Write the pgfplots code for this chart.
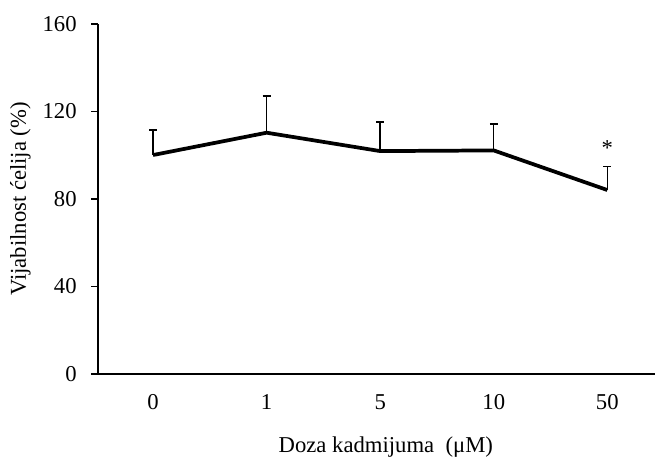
\documentclass[border=0pt]{standalone}
\usepackage{fontspec}
\setmainfont{Liberation Serif}
\usepackage{pgfplots}
\pgfplotsset{compat=1.18}
\begin{document}
\begin{tikzpicture}[x=1pt,y=1pt]
\useasboundingbox (-73.5,-63.75) rectangle (417.75,280.5);
\begin{axis}[
  at={(0,0)}, anchor=south west,
  scale only axis, width=417.75pt, height=262.5pt,
  axis lines=left, axis line style={-, line width=1.1pt},
  xmin=-0.485, xmax=4.42, ymin=0, ymax=160,
  xtick={0,1,2,3,4}, xticklabels={0,1,5,10,50},
  ytick={0,40,80,120,160},
  x tick style={draw=none},
  y tick style={line width=1.1pt, black},
  tick align=outside, major tick length=5pt,
  /pgf/number format/assume math mode=true,
  tick label style={font=\fontsize{17}{20}\selectfont},
  label style={font=\fontsize{17}{20}\selectfont},
  xticklabel style={yshift=-7pt},
  yticklabel style={xshift=-7.5pt},
  xlabel={Doza kadmijuma\ \ (μM)},
  ylabel={Vijabilnost ćelija (\%)},
  xlabel style={yshift=-13.5pt, xshift=7pt},
  ylabel style={yshift=2pt},
  clip=false,
]
\addplot[black, line width=2.8pt, mark=none, line join=round,
  error bars/.cd, y dir=plus, y explicit,
  error bar style={line width=1.1pt, black},
  error mark options={rotate=90, mark size=3pt, line width=1.2pt, black}]
  coordinates {
  (0,100.1) +- (0,11.4)
  (1,110.3) +- (0,16.9)
  (2,101.9) +- (0,13.2)
  (3,102.2) +- (0,12.2)
  (4,84.1) +- (0,10.7)
  };
\node[font=\fontsize{17}{20}\selectfont] at (axis cs:4,103.5) {*};
\end{axis}
\end{tikzpicture}
\end{document}
